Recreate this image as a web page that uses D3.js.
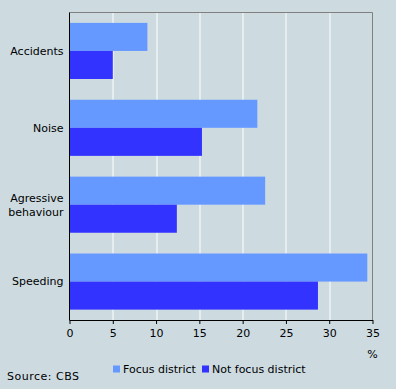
<!DOCTYPE html>
<html>
<head>
<meta charset="utf-8">
<script src="https://cdn.jsdelivr.net/npm/d3@7"></script>
<style>
  body { margin: 0; background: #cddbe1; }
  svg { display: block; font-family: "DejaVu Sans", Verdana, sans-serif; font-size: 11px; }
</style>
</head>
<body>
<svg id="chart" width="396" height="389"></svg>
<script>
var categories = ['Accidents', 'Noise', 'Agressive\nbehaviour', 'Speeding'];
var focusValues = [9.0, 21.7, 22.6, 34.4];
var notFocusValues = [5.0, 15.3, 12.4, 28.7];
var seriesNames = ['Focus district', 'Not focus district'];
var xTicks = [0, 5, 10, 15, 20, 25, 30, 35];

var colors = ['#6699ff', '#3333ff'];
var svg = d3.select('#chart'),
    margin = {top: 12.5, right: 23.5, bottom: 69, left: 69.5},
    width = 396 - margin.left - margin.right,
    height = 389 - margin.top - margin.bottom,
    g = svg.append('g').attr('transform', 'translate(' + margin.left + ',' + margin.top + ')');

svg.append('rect').attr('width', 396).attr('height', 389).attr('fill', '#cddbe1').lower();

var x = d3.scaleLinear().domain([0, 35]).range([0, width]);
var y = d3.scaleBand().domain(categories).range([0, height]).paddingInner(0.27).paddingOuter(0.135);
var ySub = d3.scaleBand().domain([0, 1]).range([0, y.bandwidth()]);

// gridlines
g.selectAll('.grid').data(xTicks.slice(1, -1)).enter().append('line')
    .attr('x1', function (d) { return Math.round(x(d)) + 0.5; })
    .attr('x2', function (d) { return Math.round(x(d)) + 0.5; })
    .attr('y1', 0).attr('y2', height)
    .attr('stroke', '#ffffff').attr('stroke-width', 1);

// top and right frame
g.append('path')
    .attr('d', 'M0,0H' + width + 'V' + height)
    .attr('fill', 'none').attr('stroke', '#808080');

var rows = categories.map(function (c, i) {
  return {cat: c, values: [focusValues[i], notFocusValues[i]]};
});

var groups = g.selectAll('.cat').data(rows).enter().append('g')
    .attr('transform', function (d) { return 'translate(0,' + y(d.cat) + ')'; });

groups.selectAll('rect').data(function (d) { return d.values; }).enter().append('rect')
    .attr('x', 0)
    .attr('y', function (d, i) { return ySub(i); })
    .attr('width', function (d) { return x(d); })
    .attr('height', ySub.bandwidth())
    .attr('fill', function (d, i) { return colors[i]; });

// category labels
groups.each(function (d) {
  var lines = d.cat.split('\n');
  var t = d3.select(this).append('text')
      .attr('text-anchor', 'end')
      .attr('x', -6)
      .attr('fill', '#000');
  var cy = y.bandwidth() / 2;
  lines.forEach(function (l, i) {
    t.append('tspan').attr('x', -6)
      .attr('y', cy + (i - (lines.length - 1) / 2) * 14)
      .attr('dy', '0.35em')
      .text(l);
  });
});

// axes
var xAxis = d3.axisBottom(x).tickValues(xTicks).tickSize(4).tickSizeOuter(0);
var xg = g.append('g').attr('transform', 'translate(0,' + height + ')').call(xAxis);
xg.select('.domain').attr('stroke', '#000');
xg.selectAll('.tick line').attr('stroke', '#000');
xg.selectAll('.tick text').attr('fill', '#000').attr('dy', '0.95em');
xg.attr('font-family', null).attr('font-size', null);

g.append('line').attr('x1', 0).attr('x2', 0).attr('y1', 0).attr('y2', height + 0.5)
    .attr('stroke', '#000');

g.append('text').attr('x', x(35)).attr('y', height + 38).attr('text-anchor', 'middle').text('%');

// legend
var legend = svg.append('g').attr('transform', 'translate(113,369)');
var lx = [0, 89];
seriesNames.forEach(function (name, i) {
  legend.append('rect').attr('x', lx[i]).attr('y', -3.5).attr('width', 7).attr('height', 7).attr('fill', colors[i]);
  legend.append('text').attr('x', lx[i] + 10).attr('y', 0).attr('dy', '0.35em').text(name);
});

svg.append('text').attr('x', 7).attr('y', 376).attr('dy', '0.35em')
    .attr('letter-spacing', '0.5px').text('Source: CBS');
</script>
</body>
</html>
